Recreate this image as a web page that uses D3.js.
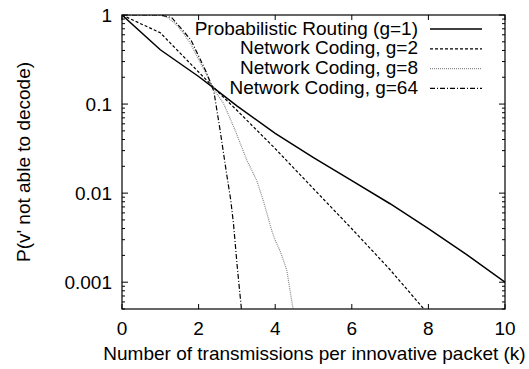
<!DOCTYPE html>
<html><head><meta charset="utf-8">
<script src="https://cdn.jsdelivr.net/npm/d3@7"></script>
<style>body{margin:0;background:#fff}svg{display:block}text{font-family:"Liberation Sans",Arial,sans-serif;fill:#000}</style>
</head><body>
<script>
// ---- data ----
const seriesNames = ["Probabilistic Routing (g=1)", "Network Coding, g=2", "Network Coding, g=8", "Network Coding, g=64"];
const kRouting = [0, 1, 2, 2.4, 3, 4, 5, 6, 7, 8, 9, 10];
const pRouting = [1, 0.407, 0.204, 0.151, 0.0955, 0.0468, 0.0251, 0.0138, 0.0076, 0.0040, 0.00204, 0.001];
const kG2 = [0, 1, 1.5, 2, 2.5, 3, 4, 5, 6, 7, 7.9];
const pG2 = [1, 0.631, 0.380, 0.229, 0.138, 0.0851, 0.0316, 0.0112, 0.00398, 0.00138, 0.00049];
const kG8 = [0, 1, 1.2, 1.4, 1.6, 1.8, 2.0, 2.2, 2.4, 2.65, 2.95, 3.26, 3.52, 3.7, 3.91, 4.0, 4.12, 4.3, 4.47];
const pG8 = [1, 1, 0.933, 0.794, 0.631, 0.468, 0.316, 0.219, 0.145, 0.102, 0.0513, 0.0234, 0.0138, 0.00794, 0.0038, 0.00295, 0.00229, 0.00138, 0.00049];
const kG64 = [0, 1, 1.3, 1.6, 1.8, 2.0, 2.2, 2.4, 2.56, 2.73, 2.84, 2.91, 3.01, 3.12];
const pG64 = [1, 1, 0.933, 0.661, 0.525, 0.347, 0.229, 0.138, 0.0513, 0.0166, 0.00832, 0.00457, 0.00148, 0.00049];
const xTicks = [0, 2, 4, 6, 8, 10];
const yTicks = [1, 0.1, 0.01, 0.001];
const yTickLabels = ["1", "0.1", "0.01", "0.001"];

const W = 529, H = 369;
const m = {l: 122, r: 24, t: 15, b: 60};
const svg = d3.select("body").append("svg").attr("width", W).attr("height", H);
const x = d3.scaleLinear().domain([0, 10]).range([m.l, W - m.r]);
const y = d3.scaleLog().domain([0.0005, 1]).range([H - m.b, m.t]);

svg.append("clipPath").attr("id", "c").append("rect")
  .attr("x", m.l).attr("y", m.t).attr("width", W - m.r - m.l).attr("height", H - m.b - m.t);

const fs = 19;
// minor y ticks
const minor = [];
for (let e = -4; e <= 0; e++) for (let d = 2; d <= 9; d++) { const v = d * Math.pow(10, e); if (v >= 0.0005 && v < 1) minor.push(v); }
const gT = svg.append("g").attr("stroke", "#000").attr("stroke-width", 1);
minor.forEach(v => {
  gT.append("line").attr("x1", m.l).attr("x2", m.l + 3).attr("y1", y(v)).attr("y2", y(v));
  gT.append("line").attr("x1", W - m.r).attr("x2", W - m.r - 3).attr("y1", y(v)).attr("y2", y(v));
});
yTicks.forEach(v => {
  gT.append("line").attr("x1", m.l).attr("x2", m.l + 6).attr("y1", y(v)).attr("y2", y(v));
  gT.append("line").attr("x1", W - m.r).attr("x2", W - m.r - 6).attr("y1", y(v)).attr("y2", y(v));
});
xTicks.forEach(v => {
  gT.append("line").attr("x1", x(v)).attr("x2", x(v)).attr("y1", H - m.b).attr("y2", H - m.b - 5);
  gT.append("line").attr("x1", x(v)).attr("x2", x(v)).attr("y1", m.t).attr("y2", m.t + 5);
});
// tick labels
yTicks.forEach((v, i) => {
  svg.append("text").attr("x", m.l - 10).attr("y", y(v) + 7).attr("text-anchor", "end")
    .attr("font-size", fs).text(yTickLabels[i]);
});
xTicks.forEach(v => {
  svg.append("text").attr("x", x(v)).attr("y", 335).attr("text-anchor", "middle")
    .attr("font-size", fs).text(v);
});
// axis titles
svg.append("text").attr("x", 314.5).attr("y", 360).attr("text-anchor", "middle")
  .attr("font-size", fs).text("Number of transmissions per innovative packet (k)");
svg.append("text").attr("transform", `translate(30,${(m.t + H - m.b) / 2}) rotate(-90)`)
  .attr("text-anchor", "middle").attr("font-size", fs).text("P(v' not able to decode)");

// series
const styles = [
  {k: kRouting, p: pRouting, stroke: "#000", w: 1.5, dash: null},
  {k: kG2, p: pG2, stroke: "#000", w: 1.2, dash: "3,2"},
  {k: kG8, p: pG8, stroke: "#888", w: 1.2, dash: "1,1"},
  {k: kG64, p: pG64, stroke: "#000", w: 1.2, dash: "5,2,1,2"}
];
const line = d3.line().x(d => x(d[0])).y(d => y(d[1]));
const gL = svg.append("g").attr("clip-path", "url(#c)");
styles.forEach(s => {
  gL.append("path").datum(s.k.map((kk, i) => [kk, s.p[i]]))
    .attr("d", line).attr("fill", "none").attr("stroke", s.stroke)
    .attr("stroke-width", s.w).attr("stroke-dasharray", s.dash);
});

// legend
styles.forEach((s, i) => {
  const base = 34.5 + i * 19.8;
  svg.append("text").attr("x", 418).attr("y", base).attr("text-anchor", "end")
    .attr("font-size", fs).text(seriesNames[i]);
  svg.append("line").attr("x1", 430).attr("x2", 482).attr("y1", base - 5.5).attr("y2", base - 5.5)
    .attr("stroke", s.stroke).attr("stroke-width", s.w).attr("stroke-dasharray", s.dash);
});

// border
svg.append("rect").attr("x", m.l).attr("y", m.t).attr("width", W - m.r - m.l).attr("height", H - m.b - m.t)
  .attr("fill", "none").attr("stroke", "#000").attr("stroke-width", 1.2);
</script>
</body></html>
